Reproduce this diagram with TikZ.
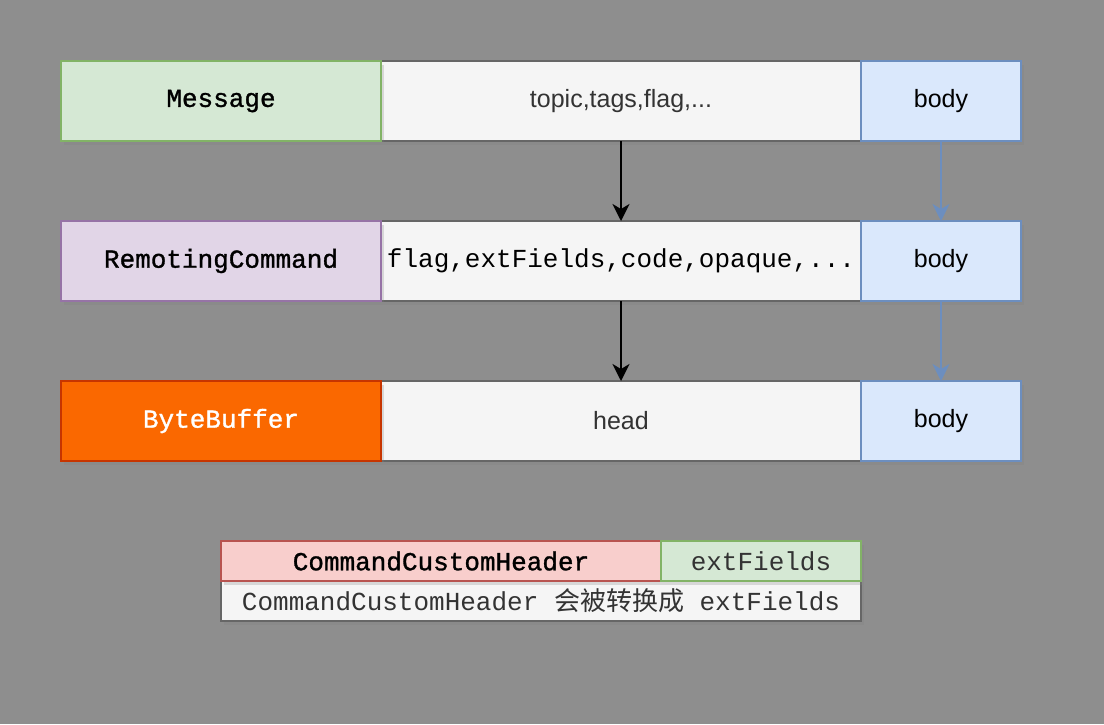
\documentclass[tikz,border=0pt]{standalone}
\usepackage{fontspec}
\setmainfont{Liberation Sans}
\setsansfont{Liberation Sans}
\setmonofont{Liberation Mono}
\newfontfamily\monoheavy[FakeBold=1.2]{Liberation Mono}
\newfontfamily\cjk{Noto Sans CJK SC}
\usetikzlibrary{shadows,arrows.meta}
\definecolor{bg}{HTML}{8E8E8E}
\definecolor{gfill}{HTML}{D5E8D4}\definecolor{gdraw}{HTML}{82B366}
\definecolor{nfill}{HTML}{F5F5F5}\definecolor{ndraw}{HTML}{666666}
\definecolor{bfill}{HTML}{DAE8FC}\definecolor{bdraw}{HTML}{6C8EBF}
\definecolor{pfill}{HTML}{E1D5E7}\definecolor{pdraw}{HTML}{9673A6}
\definecolor{ofill}{HTML}{FA6800}\definecolor{odraw}{HTML}{C73500}
\definecolor{rfill}{HTML}{F8CECC}\definecolor{rdraw}{HTML}{B85450}
\definecolor{txt}{HTML}{333333}
\tikzset{
  cell/.style={rectangle,inner sep=0pt,outer sep=0pt,line width=2pt,
    drop shadow={opacity=0.25,shadow xshift=3pt,shadow yshift=-4pt}},
  monolab/.style={font=\ttfamily\fontsize{26}{30}\selectfont},
  monobold/.style={font=\monoheavy\fontsize{26}{30}\selectfont},
  sanslab/.style={font=\sffamily\fontsize{25}{30}\selectfont},
  blk/.style={line width=2pt,-{Stealth[length=17pt,width=17pt,inset=5pt]}},
  blu/.style={line width=2pt,draw=bdraw,-{Stealth[length=17pt,width=17pt,inset=5pt]}},
}
\begin{document}
\begin{tikzpicture}[x=1pt,y=-1pt]
\fill[bg] (0,0) rectangle (1104,724);
\useasboundingbox (0,0) rectangle (1104,724);
% row 1
\node[cell,fill=nfill,draw=ndraw,minimum width=480,minimum height=80,sanslab,text=txt] (m1) at (621,101) {topic,tags,flag,...};
\node[cell,fill=gfill,draw=gdraw,minimum width=320,minimum height=80,monobold] (l1) at (221,101) {Message};
\node[cell,fill=bfill,draw=bdraw,minimum width=160,minimum height=80,sanslab] (b1) at (941,101) {body};
% row 2
\node[cell,fill=nfill,draw=ndraw,minimum width=480,minimum height=80,monolab] (m2) at (621,261) {flag,extFields,code,opaque,...};
\node[cell,fill=pfill,draw=pdraw,minimum width=320,minimum height=80,monobold] (l2) at (221,261) {RemotingCommand};
\node[cell,fill=bfill,draw=bdraw,minimum width=160,minimum height=80,sanslab] (b2) at (941,261) {body};
% row 3
\node[cell,fill=nfill,draw=ndraw,minimum width=480,minimum height=80,sanslab,text=txt] (m3) at (621,421) {head};
\node[cell,fill=ofill,draw=odraw,minimum width=320,minimum height=80,monobold,text=white] (l3) at (221,421) {ByteBuffer};
\node[cell,fill=bfill,draw=bdraw,minimum width=160,minimum height=80,sanslab] (b3) at (941,421) {body};
% arrows
\draw[blk] (m1.south) -- (m2.north);
\draw[blk] (m2.south) -- (m3.north);
\draw[blu] (b1.south) -- (b2.north);
\draw[blu] (b2.south) -- (b3.north);
% legend
\node[cell,fill=nfill,draw=ndraw,minimum width=640,minimum height=40,monolab,text=txt] (lg3) at (541,601) {CommandCustomHeader {\cjk 会被转换成} extFields};
\node[cell,fill=rfill,draw=rdraw,minimum width=440,minimum height=40,monobold] (lg1) at (441,561) {CommandCustomHeader};
\node[cell,fill=gfill,draw=gdraw,minimum width=200,minimum height=40,monolab,text=txt] (lg2) at (761,561) {extFields};
\end{tikzpicture}
\end{document}
